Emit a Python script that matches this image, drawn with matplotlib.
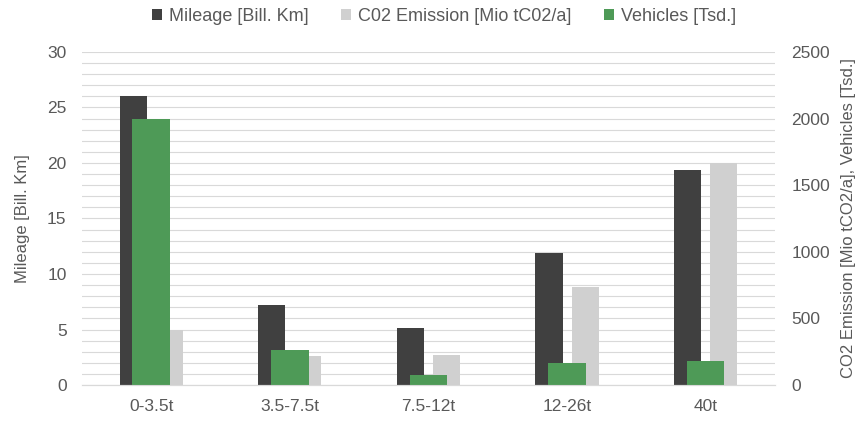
import matplotlib.pyplot as plt
import numpy as np

plt.rcParams['font.family'] = ['Liberation Sans', 'DejaVu Sans']

categories = ['0-3.5t', '3.5-7.5t', '7.5-12t', '12-26t', '40t']
mileage = [26.0, 7.2, 5.1, 11.9, 19.4]          # Bill. Km, left axis
co2 = [410, 215, 225, 735, 1665]                # Mio tCO2/a, right axis
vehicles = [2000, 262, 75, 165, 180]            # Tsd., right axis

dark = '#404040'
light = '#d0d0d0'
green = '#4e9a57'
txt = '#595959'

fig = plt.figure(figsize=(8.62, 4.21), dpi=100)
ax = fig.add_axes([0.095, 0.0855, 0.804, 0.791])
ax2 = ax.twinx()

x = np.arange(len(categories))
w = 0.195
off = 0.13

b1 = ax.bar(x - off, mileage, w, color=dark, label='Mileage [Bill. Km]')
b2 = ax2.bar(x + off, co2, w, color=light, label='C02 Emission [Mio tC02/a]')
b3 = ax2.bar(x, vehicles, 0.27, color=green, label='Vehicles [Tsd.]')

ax.set_xlim(-0.5, len(categories) - 0.5)
ax.set_ylim(0, 30)
ax2.set_ylim(0, 2500)
ax.set_yticks(np.arange(0, 31, 5))
ax2.set_yticks(np.arange(0, 2501, 500))
ax.set_yticks(np.arange(0, 31, 1), minor=True)
ax.grid(True, which='both', axis='y', color='#d9d9d9', linewidth=0.8)
ax.set_axisbelow(True)

ax.set_xticks(x)
ax.set_xticklabels(categories)

for a in (ax, ax2):
    for s in ('top', 'left', 'right'):
        a.spines[s].set_visible(False)
    a.spines['bottom'].set_color('#d9d9d9')
    a.tick_params(axis='both', which='both', length=0, colors=txt, labelsize=12.5)
ax.tick_params(axis='y', pad=11)
ax2.tick_params(axis='y', pad=12)
ax.tick_params(axis='x', pad=10)

ax.set_ylabel('Mileage [Bill. Km]', color=txt, fontsize=12, labelpad=12)
ax2.set_ylabel('CO2 Emission [Mio tCO2/a], Vehicles [Tsd.]', color=txt, fontsize=12, labelpad=8)

fig.legend(handles=[b1, b2, b3], loc='upper center', bbox_to_anchor=(0.515, 1.02),
           ncol=3, frameon=False, fontsize=13, labelcolor=txt,
           handlelength=0.55, handleheight=0.55, handletextpad=0.4, columnspacing=1.8)

fig.savefig('out.png', dpi=100)
